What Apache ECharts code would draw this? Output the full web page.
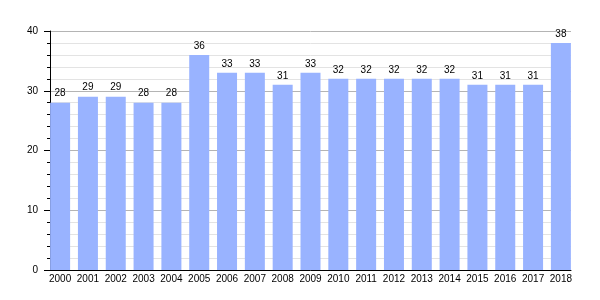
<!DOCTYPE html>
<html>
<head>
<meta charset="utf-8">
<script src="https://cdn.jsdelivr.net/npm/echarts@6/dist/echarts.min.js"></script>
<style>html,body{margin:0;padding:0;background:#fff;}#c{width:600px;height:300px;}</style>
</head>
<body>
<div id="c"></div>
<script>
const categories = ['2000','2001','2002','2003','2004','2005','2006','2007','2008','2009','2010','2011','2012','2013','2014','2015','2016','2017','2018'];
const values = [28,29,29,28,28,36,33,33,31,33,32,32,32,32,32,31,31,31,38];
const yTicks = [0,10,20,30,40];

const FONT = '"Liberation Sans", Arial, sans-serif';
const chart = echarts.init(document.getElementById('c'), null, {renderer:'canvas'});
chart.setOption({
  animation: false,
  grid: [
    {left: 50, width: 521, top: 31, height: 239, containLabel: false},
    {left: 46.2, width: 528.6, top: 31, height: 239, containLabel: false}
  ],
  xAxis: [
    {gridIndex: 0, type: 'value', min: 0, max: 1,
     axisLine: {show: true, onZero: false, lineStyle: {color: '#000', width: 1}},
     axisTick: {show: false}, axisLabel: {show: false}, splitLine: {show: false}},
    {gridIndex: 1, type: 'category', data: categories,
     axisLine: {show: false}, axisTick: {show: false},
     axisLabel: {color: '#000', fontFamily: FONT, fontSize: 10, margin: 4, interval: 0},
     splitLine: {show: false}}
  ],
  yAxis: [
    {gridIndex: 0, type: 'value', min: yTicks[0], max: yTicks[yTicks.length-1], interval: 10,
     axisLine: {show: true, lineStyle: {color: '#000', width: 1}},
     axisTick: {show: true, length: 6, lineStyle: {color: '#000'}},
     minorTick: {show: true, splitNumber: 5, length: 3, lineStyle: {color: '#000'}},
     axisLabel: {color: '#000', fontFamily: FONT, fontSize: 10, margin: 12},
     splitLine: {show: true, lineStyle: {color: '#b4b4b4', width: 1}},
     minorSplitLine: {show: true, lineStyle: {color: '#e3e3e3', width: 1}}},
    {gridIndex: 1, type: 'value', min: 0, max: 40, show: false, splitLine: {show: false}}
  ],
  series: [{
    type: 'bar', xAxisIndex: 1, yAxisIndex: 1,
    data: values, barWidth: 20,
    itemStyle: {color: '#99b3ff'},
    label: {show: true, position: 'top', distance: 4, color: '#000', fontFamily: FONT, fontSize: 10}
  }]
});
</script>
</body>
</html>
